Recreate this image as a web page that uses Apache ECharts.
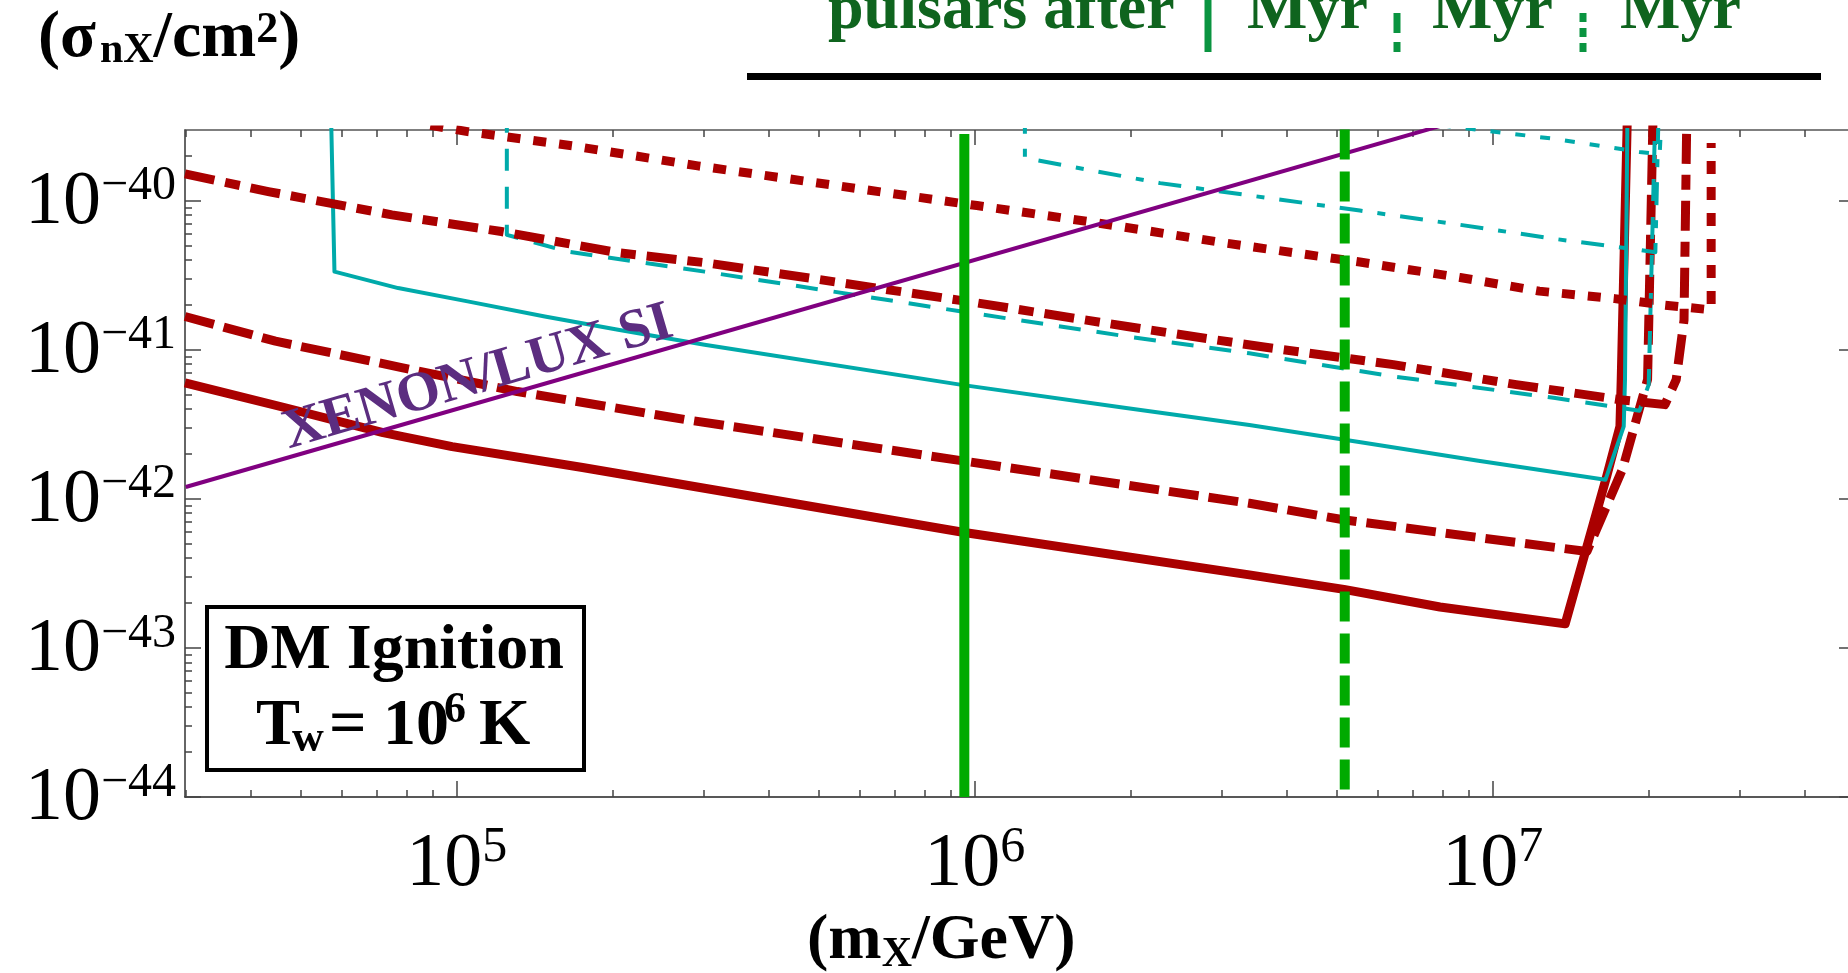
<!DOCTYPE html>
<html>
<head>
<meta charset="utf-8">
<script src="https://cdn.jsdelivr.net/npm/echarts@6/dist/echarts.min.js"></script>
<style>
html, body { margin: 0; padding: 0; background: #fff; }
#chart { width: 1848px; height: 973px; }
</style>
</head>
<body>
<div id="chart"></div>
<script>
// values: [mass in GeV, cross section in cm^2]
var xTickExps = [5, 6, 7];
var yTickExps = [-44, -43, -42, -41, -40];
var xRange = [2.99e4, 4.85e7];
var yRange = [1e-44, 2.975e-40];

var redSolid = [[2.99e4, 5.98e-42], [4.67e4, 4.08e-42], [7.21e4, 2.78e-42], [9.8e4, 2.24e-42], [1.75e5, 1.62e-42],
  [9.55e5, 5.94e-43], [3.39e6, 3.09e-43], [5.16e6, 2.47e-43], [7.91e6, 1.88e-43], [1.38e7, 1.45e-43],
  [1.66e7, 1.42e-42], [1.76e7, 3.06e-42], [1.77e7, 6.3e-42], [1.82e7, 4.0e-40]];
var redDashed = [[2.99e4, 1.67e-41], [4.47e4, 1.14e-41], [7.83e4, 7.59e-42], [1.31e5, 5.24e-42], [2.76e5, 3.40e-42],
  [9.55e5, 1.79e-42], [3.39e6, 9.33e-43], [5.15e6, 7.24e-43], [9.38e6, 5.50e-43], [1.52e7, 4.43e-43],
  [1.78e7, 1.58e-42], [1.99e7, 6.31e-42], [2.04e7, 4.0e-40]];
var redDashDot = [[2.99e4, 1.51e-40], [4.33e4, 1.15e-40], [7.5e4, 8.02e-41], [1.22e5, 6.2e-41], [2.05e5, 4.47e-41],
  [3.02e5, 3.83e-41], [9.66e5, 2.11e-41], [1.97e6, 1.43e-41], [3.56e6, 1.05e-41], [6.43e6, 7.94e-42],
  [1.11e7, 5.83e-42], [1.76e7, 4.62e-42], [2.15e7, 4.28e-42], [2.26e7, 6.3e-42], [2.34e7, 1.58e-41], [2.37e7, 4.0e-40]];
var redDotted = [[8.9e4, 3.2e-40], [1.05e5, 2.90e-40], [1.67e5, 2.33e-40], [2.92e5, 1.71e-40], [1.01e6, 9.26e-41],
  [1.69e6, 7.16e-41], [3.06e6, 5.18e-41], [5.54e6, 3.87e-41], [8.65e6, 3.05e-41], [1.23e7, 2.47e-41],
  [1.72e7, 2.2e-41], [2.15e7, 1.99e-41], [2.64e7, 1.85e-41], [2.64e7, 2.43e-40]];

var cyanSolid = [[5.72e4, 4.0e-40], [5.81e4, 3.34e-41], [7.71e4, 2.59e-41], [1.05e5, 2.11e-41], [1.48e5, 1.67e-41],
  [2.05e5, 1.36e-41], [3.01e5, 1.08e-41], [9.37e5, 5.83e-42], [1.96e6, 4.07e-42], [3.39e6, 3.13e-42],
  [5.64e6, 2.38e-42], [9.38e6, 1.80e-42], [1.65e7, 1.34e-42], [1.79e7, 3.06e-42], [1.80e7, 6.3e-42], [1.82e7, 4.0e-40]];
var cyanDashed = [[1.25e5, 4.0e-40], [1.25e5, 5.89e-41], [1.64e5, 4.55e-41], [3.01e5, 3.34e-41], [9.37e5, 1.81e-41],
  [1.96e6, 1.23e-41], [3.39e6, 9.46e-42], [6.43e6, 6.62e-42], [1.32e7, 4.74e-42], [1.92e7, 3.9e-42],
  [2.0e7, 5.83e-42], [2.06e7, 4.0e-40]];
var cyanDashDot = [[1.25e6, 4.0e-40], [1.25e6, 1.93e-40], [2.28e6, 1.31e-40], [5.54e6, 8.57e-41], [8.65e6, 6.88e-41],
  [1.32e7, 5.53e-41], [1.92e7, 4.67e-41], [2.06e7, 4.5e-41], [2.09e7, 4.0e-40]];
var cyanDotted = [[7.94e6, 3.2e-40], [1.32e7, 2.59e-40], [1.92e7, 2.12e-40], [2.1e7, 2.05e-40], [2.12e7, 4.0e-40]];

var xenonLux = [[3.0e4, 1.2e-42], [1.0e7, 4.0e-40]];
var pulsarMass = [9.55e5, 5.18e6];

var SERIF = "'Liberation Serif', 'Times New Roman', serif";
var RED = '#aa0000', CYAN = '#00aaaa', GREEN = '#00aa00';

var X0 = Math.log10(xRange[0]), X1 = Math.log10(xRange[1]);
var Y0 = Math.log10(yRange[0]), Y1 = Math.log10(yRange[1]);

function lg(pts) {
  return pts.map(function (p) { return [Math.log10(p[0]), Math.log10(p[1])]; });
}
function minorTicks(lo, hi) {
  var out = [];
  for (var n = Math.floor(lo); n <= Math.ceil(hi); n++) {
    for (var k = 2; k <= 9; k++) {
      var v = n + Math.log10(k);
      if (v > lo && v < hi) out.push(v);
    }
  }
  return out;
}
var xMinor = minorTicks(X0, X1), yMinor = minorTicks(Y0, Y1);

function curve(pts, color, width, dash) {
  return {
    type: 'line', data: lg(pts), showSymbol: false, symbol: 'none', clip: true, silent: true,
    lineStyle: { color: color, width: width, type: dash || 'solid', cap: 'butt', join: 'round' }
  };
}

function axis(pos, min, max, major, len, extra) {
  var a = {
    type: 'value', position: pos, min: min, max: max,
    splitLine: { show: false },
    axisLine: { show: false, onZero: false },
    axisTick: { show: true, inside: true, length: len, customValues: major, lineStyle: { color: '#444', width: 1.5 } },
    axisLabel: { show: false }
  };
  return Object.assign(a, extra || {});
}

// rich token style: size, shift of the text centre (+ down, - up)
function tok(size, shift, extra) {
  var t = { fontFamily: SERIF, fontSize: size, lineHeight: 100, color: '#000',
    padding: shift >= 0 ? [2 * shift, 0, 0, 0] : [0, 0, -2 * shift, 0] };
  return Object.assign(t, extra || {});
}

// text piece placed by its baseline
function txt(s, x, base, size, color, align, extra) {
  var el = {
    type: 'text', x: x, y: base - 0.3375 * size, z: 100,
    style: { text: s, fontFamily: SERIF, fontWeight: 'bold', fontSize: size, fill: color || '#000',
      align: align || 'left', verticalAlign: 'middle' }
  };
  return Object.assign(el, extra || {});
}

var chart = echarts.init(document.getElementById('chart'));

var option = {
  animation: false,
  backgroundColor: '#fff',
  grid: { left: 185, right: 0, top: 130, bottom: 176 },
  xAxis: [
    axis('bottom', X0, X1, xTickExps, 16, {
      axisLine: { show: true, onZero: false, lineStyle: { color: '#222', width: 1.5 } },
      axisLabel: {
        show: true, customValues: xTickExps, margin: 18,
        formatter: function (v) { return '{b|10}{s|' + Math.round(v) + '}'; },
        rich: { b: tok(76, 0), s: tok(50, -17) }
      }
    }),
    axis('bottom', X0, X1, xMinor, 7),
    axis('top', X0, X1, xTickExps, 15, {
      axisLine: { show: true, onZero: false, lineStyle: { color: '#555', width: 1.5 } }
    }),
    axis('top', X0, X1, xMinor, 7)
  ],
  yAxis: [
    axis('left', Y0, Y1, yTickExps, 16, {
      axisLine: { show: true, onZero: false, lineStyle: { color: '#333', width: 1.5 } },
      axisLabel: {
        show: true, customValues: yTickExps, margin: 9,
        formatter: function (v) { return '{b|10}{s|\u2212' + Math.abs(Math.round(v)) + '}'; },
        rich: { b: tok(76, 2), s: tok(48, -14) }
      }
    }),
    axis('left', Y0, Y1, yMinor, 7),
    axis('right', Y0, Y1, yTickExps, 9)
  ],
  series: [
    curve(redSolid, RED, 9),
    curve(redDashed, RED, 9, [30, 10]),
    curve(cyanSolid, CYAN, 4),
    curve(cyanDashed, CYAN, 4, [22, 16]),
    curve(cyanDashDot, CYAN, 4, [23, 15, 8, 15]),
    curve(cyanDotted, CYAN, 4, [10, 15]),
    curve(redDashDot, RED, 9, [30, 11, 15, 11]),
    curve(redDotted, RED, 9, [13, 13]),
    curve(xenonLux, '#800080', 4),
    curve([[pulsarMass[0], 2.8e-40], [pulsarMass[0], 1e-44]], GREEN, 10),
    curve([[pulsarMass[1], 3.0e-40], [pulsarMass[1], 1e-44]], GREEN, 10, [30, 12])
  ],
  graphic: [
    // y axis title
    {
      type: 'text', x: 38, y: 38.7, z: 100,
      style: {
        text: '{m|(}{g|\u03c3}{s|nX}{m|/cm}{p|2}{m|)}', align: 'left', verticalAlign: 'middle',
        rich: {
          m: tok(66, 0, { fontWeight: 'bold' }), g: tok(66, 0, { fontWeight: 'bold', padding: [0, 4, 0, 0] }),
          s: tok(42, 12.5, { fontWeight: 'bold' }), p: tok(44, -8, { fontWeight: 'bold' })
        }
      }
    },
    // x axis title
    {
      type: 'text', x: 807, y: 941.5, z: 100,
      style: {
        text: '{m|(m}{s|X}{m|/GeV)}', align: 'left', verticalAlign: 'middle',
        rich: { m: tok(64, 0, { fontWeight: 'bold' }), s: tok(42, 13.4, { fontWeight: 'bold' }) }
      }
    },
    // legend
    txt('pulsars after', 828, 33, 64, '#0f641e'),
    { type: 'line', z: 100, shape: { x1: 1208, y1: -2, x2: 1208, y2: 52 }, style: { stroke: '#0a9440', lineWidth: 7 } },
    txt('Myr', 1247, 33, 64, '#0f641e'),
    { type: 'line', z: 100, shape: { x1: 1397, y1: 13, x2: 1397, y2: 52 }, style: { stroke: '#0a9440', lineWidth: 7, lineDash: [20, 9] } },
    txt('Myr', 1432, 33, 64, '#0f641e'),
    { type: 'line', z: 100, shape: { x1: 1583, y1: 13, x2: 1583, y2: 52 }, style: { stroke: '#0a9440', lineWidth: 7, lineDash: [9, 6] } },
    txt('Myr', 1620, 33, 64, '#0f641e'),
    { type: 'rect', z: 100, shape: { x: 747, y: 73, width: 1074, height: 7 }, style: { fill: '#000' } },
    // curve label
    {
      type: 'text', x: 478, y: 378, rotation: 16.3 * Math.PI / 180, z: 100,
      style: { text: 'XENON/LUX SI', fontFamily: SERIF, fontWeight: 'bold', fontSize: 56, fill: '#5c2d80',
        align: 'center', verticalAlign: 'middle' }
    },
    // box
    { type: 'rect', z: 100, shape: { x: 207, y: 607, width: 377, height: 163 }, style: { fill: '#fff', stroke: '#000', lineWidth: 4 } },
    txt('DM Ignition', 394, 673, 64, '#000', 'center', { z: 101 }),
    txt('T', 256, 749, 66, '#000', 'left', { z: 101 }),
    txt('w', 292, 754, 44, '#000', 'left', { z: 101 }),
    txt('= 10', 329, 749, 66, '#000', 'left', { z: 101 }),
    txt('6', 444, 725, 44, '#000', 'left', { z: 101 }),
    txt('K', 479, 749, 66, '#000', 'left', { z: 101 })
  ]
};

chart.setOption(option);
</script>
</body>
</html>
